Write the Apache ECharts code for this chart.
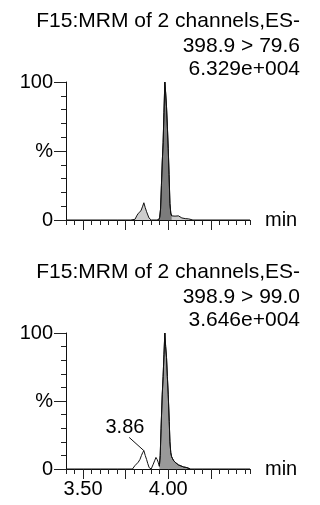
<!DOCTYPE html>
<html>
<head>
<meta charset="utf-8">
<script src="https://cdn.jsdelivr.net/npm/echarts@6/dist/echarts.min.js"></script>
<style>
html,body{margin:0;padding:0;background:#fff;}
#c{width:320px;height:505px;}
</style>
</head>
<body>
<div id="c"></div>
<script>
// ---- data ----
var TITLE_TOP = ['F15:MRM of 2 channels,ES-', '398.9 > 79.6', '6.329e+004'];
var TITLE_BOTTOM = ['F15:MRM of 2 channels,ES-', '398.9 > 99.0', '3.646e+004'];
var X_MIN = 3.40, X_MAX = 4.48;
var X_LABELS = [3.50, 4.00];
var X_MAJOR_TICKS = [3.50, 3.75, 4.00, 4.25];
var Y_LABELS = {0: '0', 50: '%', 100: '100'};
var PEAK_LABEL = '3.86';

// 398.9 > 79.6 trace: [time (min), intensity (%)]
var trace1 = [
  [3.40,0],[3.50,0],[3.60,0],[3.70,0],[3.78,0],[3.805,0.5],[3.815,3],[3.824,4.8],
  [3.84,6.7],[3.85,10],[3.857,12.5],[3.865,9],[3.873,6],[3.887,1.5],[3.895,0.3],
  [3.90,0],[3.93,0],[3.945,0.3],[3.95,2],[3.955,8],[3.96,25],[3.965,42],[3.97,56],
  [3.975,78],[3.98,100],[3.985,92],[3.99,82],[3.995,68],[4.00,52],[4.005,33],
  [4.01,12],[4.015,5],[4.02,3],[4.03,2.5],[4.04,2.8],[4.05,3],[4.06,3],[4.07,2.2],
  [4.08,1.5],[4.10,1],[4.12,0.8],[4.145,0],[4.48,0]
];
// 398.9 > 99.0 trace
var trace2 = [
  [3.40,0],[3.50,0],[3.60,0],[3.70,0],[3.79,0],[3.804,2.4],[3.814,3.5],[3.824,5],
  [3.834,7],[3.843,10],[3.85,12],[3.857,13.5],[3.865,10],[3.873,7],[3.88,4],
  [3.888,1],[3.90,0],[3.905,1],[3.912,3.5],[3.92,6],[3.928,8.5],[3.935,7],
  [3.941,5],[3.948,2],[3.953,10],[3.958,30],[3.965,55],[3.97,68],[3.975,84],
  [3.98,100],[3.985,90],[3.99,82],[3.995,68],[4.00,55],[4.006,35],[4.01,20],
  [4.015,12],[4.02,9],[4.03,6.5],[4.04,5],[4.05,4],[4.06,3],[4.07,2.4],
  [4.09,1.5],[4.11,1],[4.13,0],[4.48,0]
];
var MAIN1 = [3.945, 4.02];
var MAIN2 = [3.945, 4.13];

// ---- chart ----
var FONT = "'Liberation Sans', Arial, Helvetica, sans-serif";
var TXT = '#000';
function inRange(arr, r){ return arr.filter(function(p){ return p[0] >= r[0] - 1e-9 && p[0] <= r[1] + 1e-9; }); }

function titlesOf(lines, tops){
  return lines.map(function(t, i){
    return {
      text: t, right: 20, top: tops[i], padding: 0,
      textStyle: {fontFamily: FONT, fontSize: 21, fontWeight: 'normal', color: TXT}
    };
  });
}
function minorX(grid, labels){
  return {
    type: 'value', gridIndex: grid, min: X_MIN, max: X_MAX, interval: 0.05, position: 'bottom',
    name: 'min', nameLocation: 'end', nameGap: 15,
    nameTextStyle: {fontFamily: FONT, fontSize: 20, color: TXT, verticalAlign: 'middle'},
    axisLine: {show: true, onZero: false, lineStyle: {color: '#111', width: 1}},
    axisTick: {show: true, length: 5, lineStyle: {color: '#222', width: 1}},
    axisLabel: labels ? {show: true, customValues: X_LABELS, margin: 10, fontFamily: FONT, fontSize: 20, color: TXT,
      formatter: function(v){ return v.toFixed(2); }} : {show: false},
    splitLine: {show: false}
  };
}
function majorX(grid){
  return {
    type: 'value', gridIndex: grid, min: X_MIN, max: X_MAX, position: 'bottom', offset: 0,
    axisLine: {show: false, onZero: false},
    axisTick: {show: true, customValues: X_MAJOR_TICKS, length: 10, lineStyle: {color: '#222', width: 1}},
    axisLabel: {show: false},
    splitLine: {show: false}
  };
}
function yAx(grid){
  return {
    type: 'value', gridIndex: grid, min: 0, max: 100, interval: 50,
    axisLine: {show: true, lineStyle: {color: '#111', width: 1}},
    axisTick: {show: true, length: 12, lineStyle: {color: '#222', width: 1}},
    minorTick: {show: true, splitNumber: 5, length: 5, lineStyle: {color: '#222', width: 1}},
    axisLabel: {show: true, margin: 13, fontFamily: FONT, fontSize: 20, color: TXT,
      formatter: function(v){ return Y_LABELS[v] !== undefined ? Y_LABELS[v] : ''; }},
    splitLine: {show: false}, minorSplitLine: {show: false}
  };
}
var lineBase = {type: 'line', showSymbol: false, symbol: 'none', smooth: false, animation: false,
  lineStyle: {color: '#111', width: 1}};

var option = {
  backgroundColor: '#fff',
  animation: false,
  title: titlesOf(TITLE_TOP, [11, 36, 59]).concat(titlesOf(TITLE_BOTTOM, [262, 287, 310])),
  grid: [
    {left: 66, right: 70, top: 82, height: 138},
    {left: 66, right: 70, top: 333, height: 136}
  ],
  xAxis: [minorX(0, false), majorX(0), minorX(1, true), majorX(1)],
  yAxis: [yAx(0), yAx(1)],
  series: [
    Object.assign({}, lineBase, {xAxisIndex: 0, yAxisIndex: 0, data: trace1,
      areaStyle: {color: '#cdcdcd', opacity: 1}}),
    Object.assign({}, lineBase, {xAxisIndex: 0, yAxisIndex: 0, data: inRange(trace1, MAIN1),
      areaStyle: {color: '#7c7c7c', opacity: 1}}),
    Object.assign({}, lineBase, {xAxisIndex: 2, yAxisIndex: 1, data: trace2,
      markLine: {silent: true, symbol: ['none', 'none'], label: {show: false},
        lineStyle: {color: '#111', width: 1, type: 'solid'},
        data: [[{coord: [3.771, 23.2]}, {coord: [3.857, 13.5]}]]},
      markPoint: {silent: true, symbol: 'circle', symbolSize: 0,
        data: [{coord: [3.746, 30.7]}],
        label: {show: true, position: 'inside', formatter: PEAK_LABEL, fontFamily: FONT, fontSize: 20, color: TXT}}}),
    Object.assign({}, lineBase, {xAxisIndex: 2, yAxisIndex: 1, data: inRange(trace2, MAIN2),
      areaStyle: {color: '#999999', opacity: 1}})
  ]
};
var chart = echarts.init(document.getElementById('c'), null, {renderer: 'canvas'});
chart.setOption(option);
</script>
</body>
</html>
